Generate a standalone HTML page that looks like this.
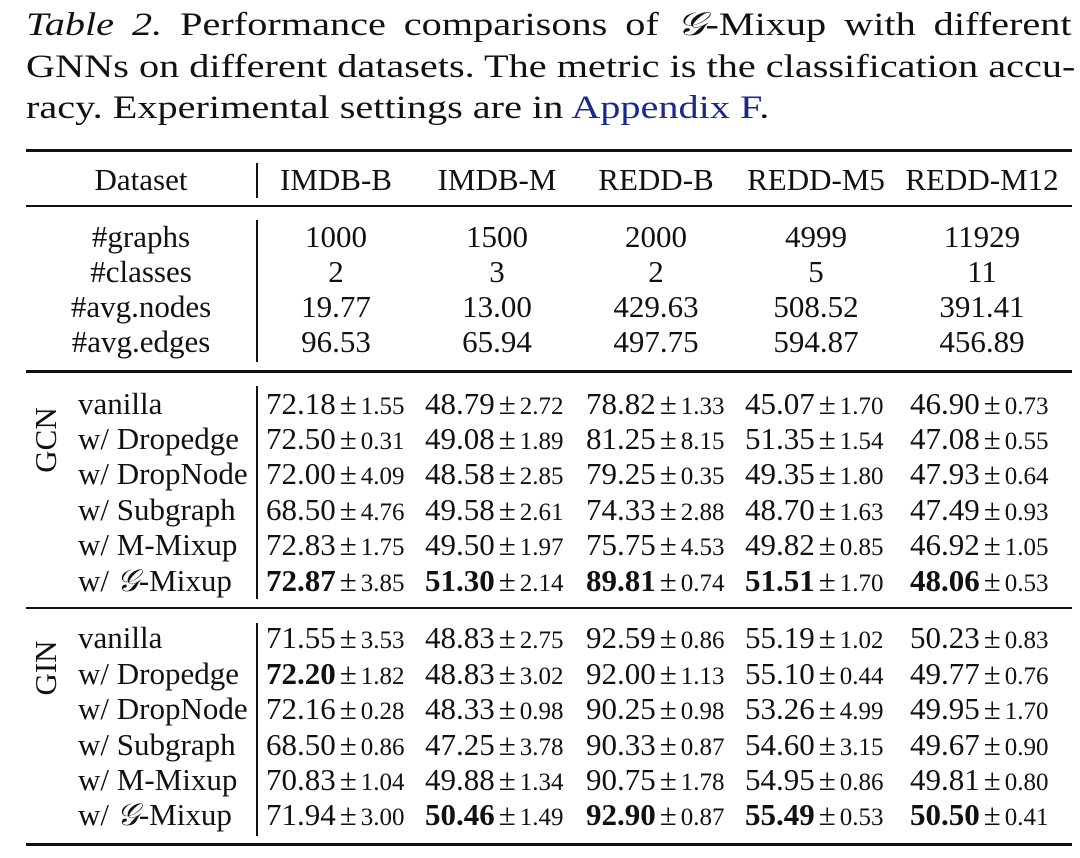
<!DOCTYPE html>
<html><head><meta charset="utf-8"><style>
body{margin:0;background:#fff;width:1080px;height:858px;overflow:hidden;position:relative;font-family:"Liberation Serif","DejaVu Serif",serif;color:#111}
.cap{position:absolute;left:26px;width:857px;font-size:33px;line-height:41.5px;text-align:justify;text-align-last:justify;white-space:nowrap;transform:scaleX(1.22);transform-origin:0 0}
.t{position:absolute;font-size:31px;line-height:36px;height:36px;white-space:nowrap}
.c{transform:translateX(-50%)}
.s{font-size:25px}
.pm{display:inline-block;width:25px;text-align:center;font-size:31px}
.hr{position:absolute;left:26px;width:1046px;background:#111}
.vr{position:absolute;left:256px;width:2px;background:#111}
.rot{position:absolute;font-size:31px;transform:translate(-50%,-50%) rotate(-90deg);white-space:nowrap}
a{color:#1a2a8c;text-decoration:none}
b{font-weight:bold}
</style></head><body>
<div class="cap" style="top:5px"><i>Table 2.</i> Performance comparisons of <i>𝒢</i>-Mixup with different</div>
<div class="cap" style="top:47px">GNNs on different datasets. The metric is the classification accu-</div>
<div class="cap" style="top:88px;text-align-last:left;text-align:left">racy. Experimental settings are in <a>Appendix F</a>.</div>

<div class="hr" style="top:149px;height:3px"></div>
<div class="hr" style="top:205px;height:2px"></div>
<div class="hr" style="top:370px;height:3px"></div>
<div class="hr" style="top:607px;height:2px"></div>
<div class="hr" style="top:843px;height:3px"></div>
<div class="vr" style="top:163px;height:35px"></div>
<div class="vr" style="top:220px;height:142px"></div>
<div class="vr" style="top:386px;height:213px"></div>
<div class="vr" style="top:623px;height:213px"></div>

<div class="t c" style="left:141px;top:162px">Dataset</div>
<div class="t c" style="left:336px;top:162px">IMDB-B</div>
<div class="t c" style="left:497px;top:162px">IMDB-M</div>
<div class="t c" style="left:656px;top:162px">REDD-B</div>
<div class="t c" style="left:816px;top:162px">REDD-M5</div>
<div class="t c" style="left:982px;top:162px">REDD-M12</div>

<div class="t c" style="left:141px;top:219px">#graphs</div>
<div class="t c" style="left:141px;top:254px">#classes</div>
<div class="t c" style="left:141px;top:289px">#avg.nodes</div>
<div class="t c" style="left:141px;top:324px">#avg.edges</div>
<div class="t c" style="left:336px;top:219px">1000</div><div class="t c" style="left:497px;top:219px">1500</div><div class="t c" style="left:656px;top:219px">2000</div><div class="t c" style="left:816px;top:219px">4999</div><div class="t c" style="left:982px;top:219px">11929</div>
<div class="t c" style="left:336px;top:254px">2</div><div class="t c" style="left:497px;top:254px">3</div><div class="t c" style="left:656px;top:254px">2</div><div class="t c" style="left:816px;top:254px">5</div><div class="t c" style="left:982px;top:254px">11</div>
<div class="t c" style="left:336px;top:289px">19.77</div><div class="t c" style="left:497px;top:289px">13.00</div><div class="t c" style="left:656px;top:289px">429.63</div><div class="t c" style="left:816px;top:289px">508.52</div><div class="t c" style="left:982px;top:289px">391.41</div>
<div class="t c" style="left:336px;top:324px">96.53</div><div class="t c" style="left:497px;top:324px">65.94</div><div class="t c" style="left:656px;top:324px">497.75</div><div class="t c" style="left:816px;top:324px">594.87</div><div class="t c" style="left:982px;top:324px">456.89</div>

<div class="rot" style="left:46px;top:440px">GCN</div>
<div class="rot" style="left:46px;top:668px">GIN</div>

<div class="t" style="left:78px;top:386px">vanilla</div>
<div class="t" style="left:78px;top:421px">w/ Dropedge</div>
<div class="t" style="left:78px;top:456px">w/ DropNode</div>
<div class="t" style="left:78px;top:492px">w/ Subgraph</div>
<div class="t" style="left:78px;top:527px">w/ M-Mixup</div>
<div class="t" style="left:78px;top:563px">w/ <i>𝒢</i>-Mixup</div>
<div class="t" style="left:78px;top:620px">vanilla</div>
<div class="t" style="left:78px;top:656px">w/ Dropedge</div>
<div class="t" style="left:78px;top:691px">w/ DropNode</div>
<div class="t" style="left:78px;top:727px">w/ Subgraph</div>
<div class="t" style="left:78px;top:762px">w/ M-Mixup</div>
<div class="t" style="left:78px;top:797px">w/ <i>𝒢</i>-Mixup</div>

<!-- GCN -->
<div class="t" style="left:266px;top:386px">72.18<span class="pm">±</span><span class="s">1.55</span></div>
<div class="t" style="left:425px;top:386px">48.79<span class="pm">±</span><span class="s">2.72</span></div>
<div class="t" style="left:586px;top:386px">78.82<span class="pm">±</span><span class="s">1.33</span></div>
<div class="t" style="left:745px;top:386px">45.07<span class="pm">±</span><span class="s">1.70</span></div>
<div class="t" style="left:910px;top:386px">46.90<span class="pm">±</span><span class="s">0.73</span></div>

<div class="t" style="left:266px;top:421px">72.50<span class="pm">±</span><span class="s">0.31</span></div>
<div class="t" style="left:425px;top:421px">49.08<span class="pm">±</span><span class="s">1.89</span></div>
<div class="t" style="left:586px;top:421px">81.25<span class="pm">±</span><span class="s">8.15</span></div>
<div class="t" style="left:745px;top:421px">51.35<span class="pm">±</span><span class="s">1.54</span></div>
<div class="t" style="left:910px;top:421px">47.08<span class="pm">±</span><span class="s">0.55</span></div>

<div class="t" style="left:266px;top:456px">72.00<span class="pm">±</span><span class="s">4.09</span></div>
<div class="t" style="left:425px;top:456px">48.58<span class="pm">±</span><span class="s">2.85</span></div>
<div class="t" style="left:586px;top:456px">79.25<span class="pm">±</span><span class="s">0.35</span></div>
<div class="t" style="left:745px;top:456px">49.35<span class="pm">±</span><span class="s">1.80</span></div>
<div class="t" style="left:910px;top:456px">47.93<span class="pm">±</span><span class="s">0.64</span></div>

<div class="t" style="left:266px;top:492px">68.50<span class="pm">±</span><span class="s">4.76</span></div>
<div class="t" style="left:425px;top:492px">49.58<span class="pm">±</span><span class="s">2.61</span></div>
<div class="t" style="left:586px;top:492px">74.33<span class="pm">±</span><span class="s">2.88</span></div>
<div class="t" style="left:745px;top:492px">48.70<span class="pm">±</span><span class="s">1.63</span></div>
<div class="t" style="left:910px;top:492px">47.49<span class="pm">±</span><span class="s">0.93</span></div>

<div class="t" style="left:266px;top:527px">72.83<span class="pm">±</span><span class="s">1.75</span></div>
<div class="t" style="left:425px;top:527px">49.50<span class="pm">±</span><span class="s">1.97</span></div>
<div class="t" style="left:586px;top:527px">75.75<span class="pm">±</span><span class="s">4.53</span></div>
<div class="t" style="left:745px;top:527px">49.82<span class="pm">±</span><span class="s">0.85</span></div>
<div class="t" style="left:910px;top:527px">46.92<span class="pm">±</span><span class="s">1.05</span></div>

<div class="t" style="left:266px;top:563px"><b>72.87</b><span class="pm">±</span><span class="s">3.85</span></div>
<div class="t" style="left:425px;top:563px"><b>51.30</b><span class="pm">±</span><span class="s">2.14</span></div>
<div class="t" style="left:586px;top:563px"><b>89.81</b><span class="pm">±</span><span class="s">0.74</span></div>
<div class="t" style="left:745px;top:563px"><b>51.51</b><span class="pm">±</span><span class="s">1.70</span></div>
<div class="t" style="left:910px;top:563px"><b>48.06</b><span class="pm">±</span><span class="s">0.53</span></div>

<!-- GIN -->
<div class="t" style="left:266px;top:620px">71.55<span class="pm">±</span><span class="s">3.53</span></div>
<div class="t" style="left:425px;top:620px">48.83<span class="pm">±</span><span class="s">2.75</span></div>
<div class="t" style="left:586px;top:620px">92.59<span class="pm">±</span><span class="s">0.86</span></div>
<div class="t" style="left:745px;top:620px">55.19<span class="pm">±</span><span class="s">1.02</span></div>
<div class="t" style="left:910px;top:620px">50.23<span class="pm">±</span><span class="s">0.83</span></div>

<div class="t" style="left:266px;top:656px"><b>72.20</b><span class="pm">±</span><span class="s">1.82</span></div>
<div class="t" style="left:425px;top:656px">48.83<span class="pm">±</span><span class="s">3.02</span></div>
<div class="t" style="left:586px;top:656px">92.00<span class="pm">±</span><span class="s">1.13</span></div>
<div class="t" style="left:745px;top:656px">55.10<span class="pm">±</span><span class="s">0.44</span></div>
<div class="t" style="left:910px;top:656px">49.77<span class="pm">±</span><span class="s">0.76</span></div>

<div class="t" style="left:266px;top:691px">72.16<span class="pm">±</span><span class="s">0.28</span></div>
<div class="t" style="left:425px;top:691px">48.33<span class="pm">±</span><span class="s">0.98</span></div>
<div class="t" style="left:586px;top:691px">90.25<span class="pm">±</span><span class="s">0.98</span></div>
<div class="t" style="left:745px;top:691px">53.26<span class="pm">±</span><span class="s">4.99</span></div>
<div class="t" style="left:910px;top:691px">49.95<span class="pm">±</span><span class="s">1.70</span></div>

<div class="t" style="left:266px;top:727px">68.50<span class="pm">±</span><span class="s">0.86</span></div>
<div class="t" style="left:425px;top:727px">47.25<span class="pm">±</span><span class="s">3.78</span></div>
<div class="t" style="left:586px;top:727px">90.33<span class="pm">±</span><span class="s">0.87</span></div>
<div class="t" style="left:745px;top:727px">54.60<span class="pm">±</span><span class="s">3.15</span></div>
<div class="t" style="left:910px;top:727px">49.67<span class="pm">±</span><span class="s">0.90</span></div>

<div class="t" style="left:266px;top:762px">70.83<span class="pm">±</span><span class="s">1.04</span></div>
<div class="t" style="left:425px;top:762px">49.88<span class="pm">±</span><span class="s">1.34</span></div>
<div class="t" style="left:586px;top:762px">90.75<span class="pm">±</span><span class="s">1.78</span></div>
<div class="t" style="left:745px;top:762px">54.95<span class="pm">±</span><span class="s">0.86</span></div>
<div class="t" style="left:910px;top:762px">49.81<span class="pm">±</span><span class="s">0.80</span></div>

<div class="t" style="left:266px;top:797px">71.94<span class="pm">±</span><span class="s">3.00</span></div>
<div class="t" style="left:425px;top:797px"><b>50.46</b><span class="pm">±</span><span class="s">1.49</span></div>
<div class="t" style="left:586px;top:797px"><b>92.90</b><span class="pm">±</span><span class="s">0.87</span></div>
<div class="t" style="left:745px;top:797px"><b>55.49</b><span class="pm">±</span><span class="s">0.53</span></div>
<div class="t" style="left:910px;top:797px"><b>50.50</b><span class="pm">±</span><span class="s">0.41</span></div>
</body></html>
